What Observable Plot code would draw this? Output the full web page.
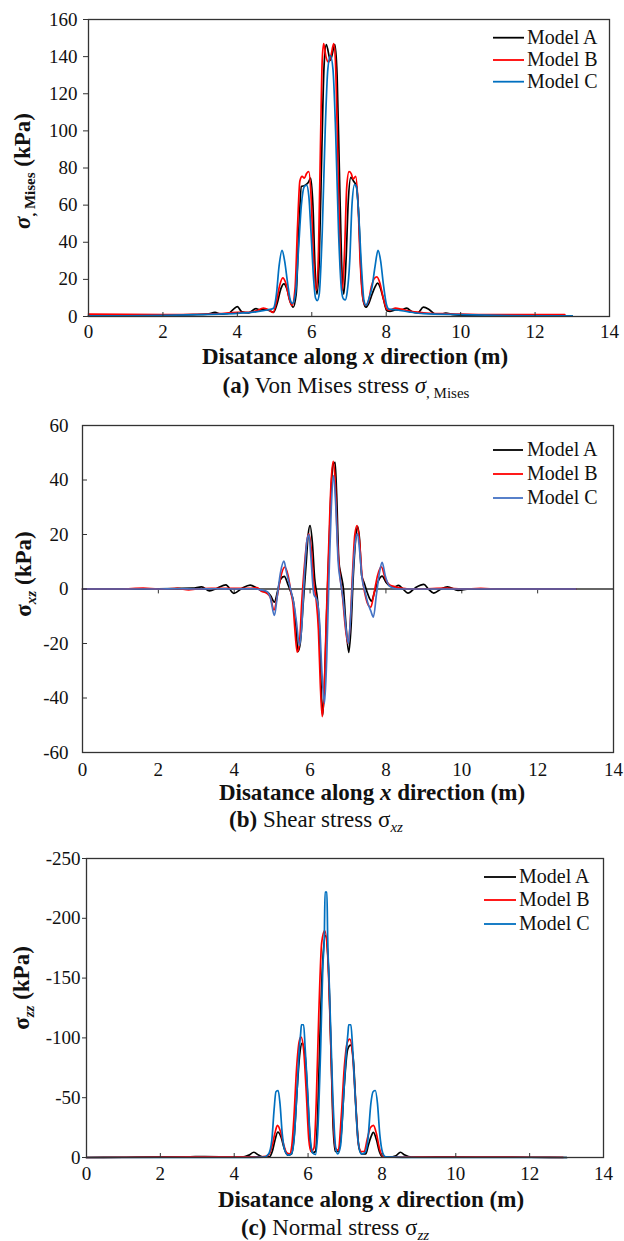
<!DOCTYPE html>
<html><head><meta charset="utf-8">
<script src="https://cdn.jsdelivr.net/npm/d3@7"></script>
<script src="https://cdn.jsdelivr.net/npm/@observablehq/plot@0.6"></script>
<style>
html,body{margin:0;padding:0;background:#fff;}
#root{position:relative;width:624px;height:1241px;font-family:"Liberation Serif","Times New Roman",serif;color:#111;}
#root svg, #root svg text, #root svg tspan{font-family:"Liberation Serif","Times New Roman",serif !important;}
.panel{position:absolute;left:0;}
.cap{position:absolute;font-size:23px;line-height:23px;white-space:nowrap;transform:translateX(-50%);}
.cap .sub{font-size:15px;position:relative;top:5px;}
</style></head><body><div id="root"></div>
<script>
// ---------- shared ----------
const models = ["Model A", "Model B", "Model C"];
const xTicks = [0, 2, 4, 6, 8, 10, 12, 14];

// ---------- (a) Von Mises stress (kPa) : [x (m), value] ----------
const misesTicks = [0, 20, 40, 60, 80, 100, 120, 140, 160];
const misesA = [[0,0.3],[1,0.4],[2,0.6],[2.8,1.0],[3.2,1.3],[3.4,2.2],[3.55,1.3],[3.75,1.6],[3.9,4.0],[4.0,5.3],[4.12,2.5],[4.3,2.0],[4.5,4.2],[4.6,3.6],[4.75,3.8],[4.88,3.0],[4.97,2.2],[5.07,7],[5.17,15],[5.25,17.6],[5.33,15],[5.42,8],[5.5,5],[5.58,12],[5.66,50],[5.72,70],[5.8,70.5],[5.9,72],[5.97,74.5],[6.03,60],[6.09,25],[6.14,12],[6.2,30],[6.27,90],[6.33,135],[6.39,146.5],[6.5,138],[6.62,146.5],[6.68,130],[6.74,80],[6.8,30],[6.86,12],[6.92,30],[6.98,62],[7.05,75],[7.12,73],[7.2,70],[7.26,55],[7.32,25],[7.39,8],[7.45,5],[7.53,7],[7.62,12],[7.7,16],[7.77,18],[7.85,15],[7.93,9],[8.02,3],[8.1,2.8],[8.25,3.5],[8.4,3.5],[8.55,4.5],[8.7,2.5],[8.85,2.0],[9.0,5.0],[9.15,3.8],[9.3,1.5],[9.45,1.2],[9.6,1.8],[9.8,1.0],[10.2,0.6],[11,0.4],[12,0.3],[13,0.2]];
const misesB = [[0,1.3],[1,1.1],[2,1.0],[3,1.2],[3.5,1.5],[4.0,2.3],[4.3,2.2],[4.5,3.0],[4.7,4.5],[4.85,3.5],[4.96,2.2],[5.05,8],[5.14,17],[5.22,20.8],[5.3,18],[5.4,9],[5.47,6],[5.55,15],[5.62,50],[5.68,73],[5.74,75.5],[5.8,74.5],[5.86,77],[5.92,78],[5.98,65],[6.04,35],[6.12,14],[6.18,35],[6.24,100],[6.28,138],[6.32,147],[6.38,140],[6.45,137],[6.52,141],[6.59,147],[6.64,135],[6.7,85],[6.76,35],[6.82,14],[6.88,35],[6.94,70],[7.0,78],[7.06,77],[7.11,74],[7.18,75.5],[7.24,62],[7.3,30],[7.37,10],[7.44,6],[7.52,8],[7.6,16],[7.68,20.5],[7.75,21.3],[7.83,18],[7.92,10],[8.02,3.8],[8.1,3.5],[8.25,4.5],[8.4,4.0],[8.6,3.0],[9.0,2.0],[9.5,1.5],[10.0,1.3],[11.0,1.0],[12.0,1.0],[12.8,1.0]];
const misesC = [[0,0.3],[1,0.4],[2,0.6],[3,1.0],[3.5,1.3],[4.0,1.7],[4.5,2.5],[4.8,3.5],[4.97,4.5],[5.05,12],[5.12,27],[5.2,35.6],[5.27,30],[5.35,18],[5.42,9],[5.48,7],[5.56,12],[5.64,35],[5.72,60],[5.8,70],[5.86,70.8],[5.92,65],[5.98,45],[6.05,20],[6.1,10],[6.15,8.6],[6.2,12],[6.28,45],[6.36,100],[6.43,133],[6.5,140.6],[6.57,133],[6.64,100],[6.72,45],[6.8,14],[6.85,9.5],[6.9,9],[6.95,13],[7.02,30],[7.08,60],[7.15,71],[7.2,70],[7.26,55],[7.34,25],[7.4,9],[7.46,6],[7.54,10],[7.62,16],[7.7,27],[7.78,35.6],[7.85,30],[7.92,18],[8.0,7],[8.07,4],[8.3,3.5],[8.6,2.5],[9.0,1.5],[10.0,1.0],[11.0,0.6],[12.0,0.4],[13.0,0.3]];

// ---------- (b) Shear stress sigma_xz (kPa) ----------
const shearTicks = [-60, -40, -20, 0, 20, 40, 60];
const shearA = [[0,0],[1,0],[2,0.1],[2.5,0.2],[2.9,0.3],[3.14,0.8],[3.35,-0.7],[3.55,0.3],[3.78,1.5],[3.99,-1.6],[4.2,0.2],[4.42,1.4],[4.6,0.3],[4.75,-0.8],[4.88,-1.2],[4.96,-2.5],[5.06,-4.8],[5.14,-1],[5.22,3.5],[5.32,4.6],[5.42,1.5],[5.5,-1.5],[5.56,-4.5],[5.62,-12],[5.68,-23],[5.74,-20],[5.82,-5],[5.9,10],[5.95,20],[6.0,23.3],[6.06,17],[6.12,4],[6.2,-4.5],[6.25,-15],[6.29,-35],[6.33,-46.5],[6.38,-35],[6.44,-8],[6.5,15],[6.56,38],[6.62,46],[6.66,46.5],[6.7,35],[6.76,10],[6.82,5],[6.88,0],[6.94,-12],[7.02,-23.3],[7.08,-14],[7.14,5],[7.2,18],[7.25,23],[7.3,19],[7.36,5],[7.42,2.5],[7.5,-1],[7.57,-3.5],[7.62,-4.5],[7.7,-1],[7.8,3],[7.9,4.7],[8.0,2.5],[8.12,1.0],[8.22,0.8],[8.33,1.3],[8.45,0],[8.58,-1.5],[8.78,0.5],[9.0,1.7],[9.12,0],[9.26,-1.5],[9.45,0],[9.62,0.8],[9.9,-0.5],[10.2,0],[11,0],[12,0],[13,0]];
const shearB = [[0,0],[1,0],[1.6,0.3],[2.0,0],[2.5,0.2],[2.8,-0.3],[3.0,0],[3.4,0.2],[4.0,0.2],[4.4,0.2],[4.6,0.5],[4.72,-0.8],[4.85,-1.5],[4.95,-3],[5.05,-7.7],[5.13,-3],[5.22,4],[5.33,8.0],[5.42,5],[5.5,-1.5],[5.55,-5.5],[5.6,-15],[5.66,-23.2],[5.72,-20],[5.78,-5],[5.86,10],[5.92,18],[5.97,20.2],[6.03,15],[6.1,2],[6.16,-4],[6.22,-15],[6.27,-35],[6.32,-46.8],[6.37,-38],[6.43,-10],[6.49,15],[6.55,38],[6.61,46.8],[6.66,40],[6.72,18],[6.78,6],[6.85,-2],[6.93,-14],[7.0,-20],[7.06,-12],[7.12,6],[7.18,20],[7.24,23.3],[7.3,18],[7.37,5],[7.45,-2],[7.52,-5.5],[7.6,-6.7],[7.68,-2],[7.78,5],[7.88,8.1],[7.98,4],[8.1,1.5],[8.25,0.8],[8.4,0.3],[8.6,0],[9.0,0.1],[9.6,0.3],[10.0,0],[10.5,0.2],[11.0,0],[12.0,0],[13,0]];
const shearC = [[0,0],[1,0],[2,0],[2.5,0.1],[3.0,0],[3.5,0.1],[4.0,0],[4.5,0.1],[4.7,-0.3],[4.85,-0.8],[4.95,-3],[5.06,-9.7],[5.14,-2],[5.22,6],[5.31,10.2],[5.38,6],[5.45,2],[5.52,-2],[5.58,-6],[5.64,-12],[5.72,-20.7],[5.78,-14],[5.85,5],[5.92,18],[5.97,20],[6.02,12],[6.1,-2],[6.18,-4],[6.25,-12],[6.31,-30],[6.38,-42],[6.44,-25],[6.5,5],[6.56,30],[6.62,41.6],[6.68,30],[6.74,10],[6.8,3],[6.88,-5],[6.95,-15],[7.01,-20],[7.07,-10],[7.14,8],[7.2,18],[7.25,20.3],[7.3,15],[7.37,4],[7.45,-1],[7.52,-5],[7.6,-8],[7.67,-10.3],[7.75,-2],[7.83,6],[7.9,9.8],[7.98,5],[8.1,1],[8.3,0],[8.6,0],[9.0,0],[10.0,0],[11,0],[12,0],[13,0]];

// ---------- (c) Normal stress sigma_zz (kPa) ----------
const normalTicks = [0, -50, -100, -150, -200, -250];
const normalA = [[0,0],[1,-0.2],[2,-0.5],[2.7,-0.5],[3.2,-0.8],[3.8,-0.5],[4.2,-0.3],[4.4,-2],[4.53,-4.4],[4.66,-2],[4.8,-0.3],[4.95,-0.5],[5.03,-5],[5.1,-14],[5.18,-21.2],[5.27,-17],[5.35,-8],[5.45,-2],[5.55,-3],[5.63,-20],[5.7,-55],[5.77,-85],[5.84,-95.6],[5.92,-85],[6.0,-45],[6.06,-12],[6.12,-4],[6.2,-5],[6.26,-35],[6.32,-100],[6.39,-160],[6.47,-185.6],[6.55,-160],[6.62,-90],[6.68,-25],[6.74,-5],[6.82,-5],[6.9,-20],[6.98,-60],[7.07,-90],[7.15,-94],[7.23,-80],[7.3,-40],[7.38,-8],[7.46,-3],[7.56,-3],[7.63,-10],[7.7,-17],[7.77,-21],[7.85,-15],[7.93,-5],[8.02,-0.5],[8.2,-0.3],[8.38,-1.5],[8.5,-4.4],[8.62,-2],[8.8,-0.3],[9.5,-0.5],[10,-0.5],[11,-0.3],[12,-0.2],[13,0]];
const normalB = [[0,0],[2,-0.3],[3,-0.5],[4,-0.5],[4.6,-0.5],[4.85,-1],[4.95,-3],[5.03,-10],[5.1,-20],[5.17,-26.8],[5.25,-22],[5.33,-12],[5.42,-4],[5.5,-3],[5.56,-10],[5.62,-35],[5.69,-75],[5.76,-97],[5.81,-100.6],[5.88,-90],[5.95,-55],[6.02,-15],[6.08,-5],[6.16,-8],[6.22,-45],[6.29,-120],[6.37,-180],[6.45,-189.8],[6.53,-170],[6.6,-110],[6.67,-40],[6.74,-8],[6.82,-6],[6.9,-35],[6.98,-75],[7.06,-96],[7.13,-99],[7.2,-88],[7.28,-50],[7.36,-12],[7.44,-5],[7.52,-5],[7.6,-15],[7.69,-25],[7.77,-26.8],[7.85,-20],[7.93,-8],[8.02,-1],[8.1,-0.3],[9,-0.3],[10,-0.3],[11,-0.3],[12,-0.2],[12.9,-0.1]];
const normalC = [[0,0],[2,0],[3,0],[4,0],[4.8,-0.3],[4.93,-3],[5.02,-15],[5.08,-40],[5.13,-55],[5.19,-56],[5.24,-45],[5.3,-20],[5.38,-5],[5.46,-2],[5.55,-3],[5.62,-15],[5.7,-55],[5.76,-90],[5.8,-104],[5.82,-111],[5.88,-111],[5.92,-92],[5.98,-60],[6.05,-20],[6.12,-4],[6.2,-2.5],[6.26,-20],[6.34,-90],[6.4,-160],[6.44,-185],[6.46,-222],[6.51,-222],[6.53,-185],[6.58,-140],[6.66,-60],[6.74,-10],[6.8,-3],[6.88,-10],[6.96,-50],[7.04,-90],[7.08,-104],[7.1,-111],[7.16,-111],[7.2,-95],[7.27,-55],[7.35,-15],[7.44,-3],[7.54,-4],[7.62,-15],[7.7,-45],[7.76,-55],[7.82,-56],[7.88,-45],[7.94,-20],[8.02,-4],[8.1,-0.5],[9,0],[10,0],[11,0],[12,0],[13,0]];

// ---------- helpers ----------
const rowsOf = (sets) => sets.flatMap((s, i) => s.map(([x, y]) => ({x, y, model: models[i]})));
const fmt = d => String(d);
const FONT = "'Liberation Serif', 'Times New Roman', serif";
const baseStyle = {fontFamily: FONT, fontSize: "19px", color: "#111", background: "transparent", overflow: "visible"};

function addLegend(svg, colors, x1, x2, tx, rows) {
  const g = d3.select(svg).append("g");
  models.forEach((m, i) => {
    g.append("line").attr("x1", x1).attr("x2", x2).attr("y1", rows[i]).attr("y2", rows[i])
      .attr("stroke", colors[i]).attr("stroke-width", 1.8);
    g.append("text").attr("x", tx).attr("y", rows[i] + 6).attr("font-size", 20)
      .attr("text-anchor", "start").attr("fill", "#111").text(m);
  });
}
function addXTitle(svg, cx, baseline) {
  const t = d3.select(svg).append("text").attr("x", cx).attr("y", baseline)
    .attr("text-anchor", "middle").attr("font-size", 23).attr("font-weight", "bold").attr("fill", "#111");
  t.append("tspan").text("Disatance along ");
  t.append("tspan").attr("font-style", "italic").text("x");
  t.append("tspan").text(" direction (m)");
}
function addYTitle(svg, tx, ty, parts) {
  const t = d3.select(svg).append("text").attr("transform", `translate(${tx},${ty}) rotate(-90)`)
    .attr("text-anchor", "middle").attr("font-size", 23).attr("font-weight", "bold").attr("fill", "#111");
  parts.forEach(p => {
    const s = t.append("tspan").text(p.text);
    if (p.italic) s.attr("font-style", "italic");
    if (p.size) s.attr("font-size", p.size);
    if (p.dy) s.attr("dy", p.dy);
  });
}
function caption(root, cx, top, html) {
  const d = document.createElement("div");
  d.className = "cap"; d.style.left = cx + "px"; d.style.top = top + "px";
  d.innerHTML = html; root.appendChild(d);
}
function place(root, svg, top) {
  svg.classList.add("panel"); svg.style.top = top + "px"; root.appendChild(svg);
}

const root = document.getElementById("root");

// ---------- panel (a) ----------
const colA = ["#000000", "#ff0000", "#0070c0"];
const svgA = Plot.plot({
  width: 624, height: 372, marginTop: 19, marginBottom: 56, marginLeft: 88, marginRight: 15,
  style: baseStyle,
  x: {domain: [0, 14], label: null},
  y: {domain: [0, 160], label: null},
  color: {domain: models, range: colA},
  marks: [
    Plot.line(rowsOf([misesA, misesB, misesC]), {x: "x", y: "y", z: "model", stroke: "model", strokeWidth: 1.7, curve: "monotone-x"}),
    Plot.frame({stroke: "#333", strokeWidth: 1.3}),
    Plot.axisX({ticks: xTicks, tickFormat: fmt, tickSize: 4, dy: -4, tickPadding: 8, stroke: "#333"}),
    Plot.axisY({ticks: misesTicks, tickFormat: fmt, tickSize: 5, tickPadding: 6, stroke: "#333"})
  ]
});
addLegend(svgA, colA, 493, 524, 527, [37.7, 60, 81.7]);
addXTitle(svgA, 355, 364);
addYTitle(svgA, 30, 171, [
  {text: "σ", italic: true},
  {text: ", Mises", size: 15, dy: 5},
  {text: " (kPa)", dy: -5}
]);
place(root, svgA, 0);
caption(root, 346, 374, "<b>(a)</b> Von Mises stress <i>σ</i><span class='sub'>, Mises</span>");

// ---------- panel (b) ----------
const colB = ["#000000", "#ff0000", "#4472c4"];
const svgB = Plot.plot({
  width: 624, height: 400, marginTop: 19, marginBottom: 54, marginLeft: 82, marginRight: 11,
  style: baseStyle,
  x: {domain: [0, 14], label: null},
  y: {domain: [-60, 60], label: null},
  color: {domain: models, range: colB},
  marks: [
    Plot.ruleY([0], {stroke: "#333", strokeWidth: 1.3}),
    Plot.ruleX(xTicks, {x: d => d, y1: 0, y2: -1.8, stroke: "#333"}),
    Plot.line(rowsOf([shearA, shearB, shearC]), {x: "x", y: "y", z: "model", stroke: "model", strokeWidth: 1.7, curve: "monotone-x"}),
    Plot.frame({stroke: "#333", strokeWidth: 1.3}),
    Plot.axisX({ticks: xTicks, tickFormat: fmt, tickSize: 0, tickPadding: 9.5}),
    Plot.axisY({ticks: shearTicks, tickFormat: fmt, tickSize: 5, dx: 5, tickPadding: 14, stroke: "#333"})
  ]
});
addLegend(svgB, colB, 493, 523, 527, [44, 68, 92]);
addXTitle(svgB, 372, 394);
addYTitle(svgB, 31, 168, [
  {text: "σ"},
  {text: "xz", italic: true, size: 15, dy: 5},
  {text: " (kPa)", dy: -5}
]);
place(root, svgB, 406);
caption(root, 316, 808, "<b>(b)</b> Shear stress σ<span class='sub'><i>xz</i></span>");

// ---------- panel (c) ----------
const colC = ["#000000", "#ff0000", "#0070c0"];
const svgC = Plot.plot({
  width: 624, height: 376, marginTop: 19, marginBottom: 58, marginLeft: 86, marginRight: 21,
  style: baseStyle,
  x: {domain: [0, 14], label: null},
  y: {domain: [0, -250], label: null},
  color: {domain: models, range: colC},
  marks: [
    Plot.line(rowsOf([normalA, normalB, normalC]), {x: "x", y: "y", z: "model", stroke: "model", strokeWidth: 1.7, curve: "monotone-x"}),
    Plot.frame({stroke: "#333", strokeWidth: 1.3}),
    Plot.axisX({ticks: xTicks, tickFormat: fmt, tickSize: 4, dy: -4, tickPadding: 8.5, stroke: "#333"}),
    Plot.axisY({ticks: normalTicks, tickFormat: fmt, tickSize: 4, tickPadding: 2, stroke: "#333"})
  ]
});
addLegend(svgC, colC, 484, 516, 519, [38, 61, 85]);
addXTitle(svgC, 371, 368);
addYTitle(svgC, 29, 149, [
  {text: "σ"},
  {text: "zz", italic: true, size: 15, dy: 5},
  {text: " (kPa)", dy: -5}
]);
place(root, svgC, 839);
caption(root, 335, 1216, "<b>(c)</b> Normal stress σ<span class='sub'><i>zz</i></span>");
</script></body></html>
